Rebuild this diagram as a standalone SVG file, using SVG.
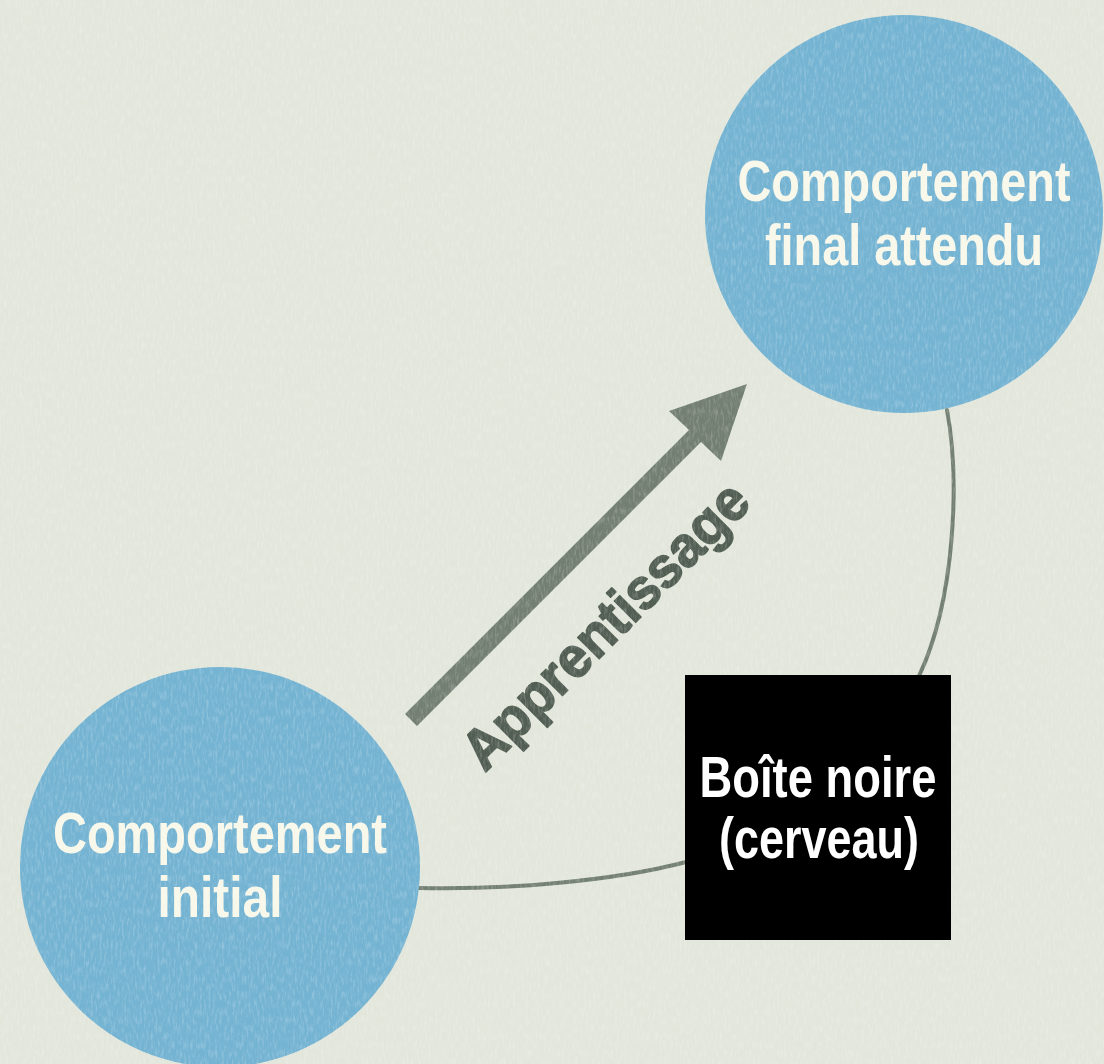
<svg xmlns="http://www.w3.org/2000/svg" width="1104" height="1064" viewBox="0 0 1104 1064">
  <defs>
    <!-- fine paper grain, streaked horizontally -->
    <filter id="paper" x="0" y="0" width="100%" height="100%">
      <feTurbulence type="fractalNoise" baseFrequency="0.45 0.12" numOctaves="3" seed="7" result="noise"/>
      <feColorMatrix in="noise" type="matrix" values="0 0 0 0 1  0 0 0 0 1  0 0 0 0 1  0 0 0 -2.2 1.25" result="light"/>
      <feComposite in="light" in2="SourceGraphic" operator="in"/>
    </filter>
    <style>
      .bubble { fill: #74b3d2; }
      .bubble-label { font-family: "Liberation Sans", Arial, sans-serif; font-weight: bold; font-size: 58px; fill: #f7f7ea; text-anchor: middle; }
      .box { fill: #000000; }
      .box-label { font-family: "Liberation Sans", Arial, sans-serif; font-weight: bold; font-size: 58px; fill: #ffffff; text-anchor: middle; }
      .link { fill: none; stroke: #737f72; stroke-width: 4; stroke-linecap: round; }
      .arrow { fill: #737f72; }
      .arrow-label { font-family: "Liberation Sans", Arial, sans-serif; font-weight: bold; font-size: 57px; fill: #525e53; stroke: #525e53; stroke-width: 1.6; stroke-linejoin: round; text-anchor: middle; }
    </style>
  </defs>

  <!-- background -->
  <rect width="1104" height="1064" fill="#e2e6db"/>

  <!-- connectors -->
  <g id="connectors">
    <path class="link" d="M 947 410 C 960 480, 955 600, 919 676"/>
    <path class="link" d="M 419 888 C 500 890, 610 882, 686 862"/>
    <polygon class="arrow" points="405,714 689,430 669,411 747,384 721,461 701,442 417,726"/>
    <text class="arrow-label" transform="translate(619 639) rotate(-45)" textLength="380" lengthAdjust="spacingAndGlyphs">Apprentissage</text>
  </g>

  <g id="node-final">
    <circle class="bubble" cx="904" cy="214" r="199"/>
    <text class="bubble-label" x="904" y="201" textLength="333" lengthAdjust="spacingAndGlyphs">Comportement</text>
    <text class="bubble-label" x="904" y="265" textLength="278" lengthAdjust="spacingAndGlyphs">final attendu</text>
  </g>

  <g id="node-initial">
    <circle class="bubble" cx="220" cy="867" r="200"/>
    <text class="bubble-label" x="220" y="853" textLength="334" lengthAdjust="spacingAndGlyphs">Comportement</text>
    <text class="bubble-label" x="220" y="917" textLength="125" lengthAdjust="spacingAndGlyphs">initial</text>
  </g>

  <!-- grain over the sheet and bubbles -->
  <rect width="1104" height="1064" fill="#ffffff" filter="url(#paper)" opacity="0.22" pointer-events="none"/>

  <g id="node-blackbox">
    <rect class="box" x="685" y="675" width="266" height="265"/>
    <text class="box-label" x="818" y="797" textLength="237" lengthAdjust="spacingAndGlyphs">Boîte noire</text>
    <text class="box-label" x="819" y="858" textLength="200" lengthAdjust="spacingAndGlyphs">(cerveau)</text>
  </g>
</svg>
